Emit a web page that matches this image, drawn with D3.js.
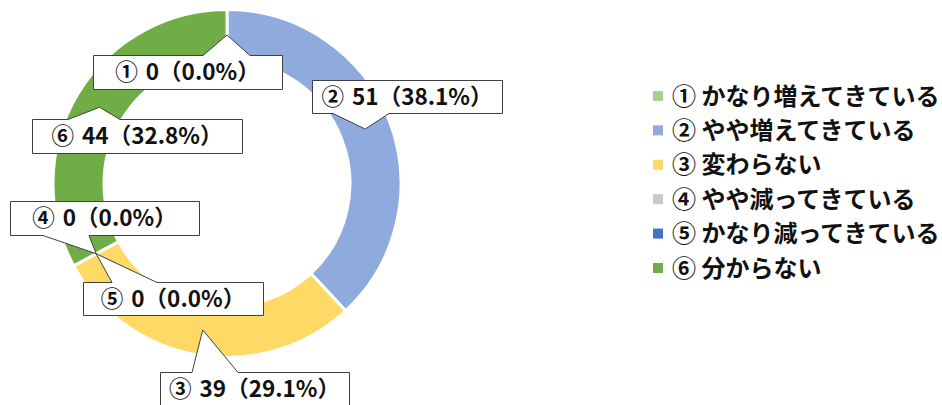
<!DOCTYPE html>
<html>
<head>
<meta charset="utf-8">
<script src="https://cdn.jsdelivr.net/npm/d3@7/dist/d3.min.js"></script>
<style>
  body { margin: 0; background: #fff; }
  text { font-family: "Noto Sans CJK JP", "Noto Sans", sans-serif; font-weight: bold; fill: #111; }
</style>
</head>
<body>
<div id="chart"></div>
<script>
// data
var marks = ["①", "②", "③", "④", "⑤", "⑥"];
var categories = ["かなり増えてきている", "やや増えてきている", "変わらない", "やや減ってきている", "かなり減ってきている", "分からない"];
var counts = [0, 51, 39, 0, 0, 44];
var colors = ["#A9D18E", "#8FAADC", "#FFD966", "#C9C9C9", "#4472C4", "#70AD47"];

// callout boxes: x, y, w, h, wedge base left, wedge base right
var boxes = [
    [93, 55, 189, 34, 203, 250],
    [312, 80, 190, 33, 333, 389],
    [160, 372, 189, 40, 192, 238],
    [10, 201, 189, 34, 43, 89],
    [83, 282, 180, 33, 112, 157],
    [32, 119, 210, 34, 68, 120]
];

var width = 942, height = 405;
var cx = 227, cy = 183.5;

var svg = d3.select("#chart").append("svg")
    .attr("width", width)
    .attr("height", height);

var total = d3.sum(counts);
var items = counts.map(function(d, i){
    return {i: i, value: d, mark: marks[i], name: categories[i], color: colors[i]};
});

var pie = d3.pie().sort(null).value(function(d){ return d.value; });
var arcs = pie(items);

var arc = d3.arc().innerRadius(123).outerRadius(174);
var midArc = d3.arc().innerRadius(148.5).outerRadius(148.5);

var ring = svg.append("g").attr("transform", "translate(" + cx + "," + cy + ")");
ring.selectAll("path")
    .data(arcs.filter(function(d){ return d.value > 0; }))
    .enter()
    .append("path")
    .attr("d", arc)
    .attr("fill", function(d){ return d.data.color; })
    .attr("stroke", "#fff")
    .attr("stroke-width", 3);

// callouts
function calloutPath(b, p){
    var x = b[0] + 0.5, y = b[1] + 0.5, w = b[2], h = b[3];
    var ax = p[0] + cx, ay = p[1] + cy;
    if (ay < y) {
        return "M" + x + "," + y + "L" + b[4] + "," + y + "L" + ax + "," + ay +
            "L" + b[5] + "," + y + "L" + (x + w) + "," + y + "L" + (x + w) + "," + (y + h) +
            "L" + x + "," + (y + h) + "Z";
    }
    return "M" + x + "," + y + "L" + (x + w) + "," + y + "L" + (x + w) + "," + (y + h) +
        "L" + b[5] + "," + (y + h) + "L" + ax + "," + ay + "L" + b[4] + "," + (y + h) +
        "L" + x + "," + (y + h) + "Z";
}

var callouts = svg.append("g").selectAll("g")
    .data(arcs)
    .enter()
    .append("g");

callouts.append("path")
    .attr("d", function(d){ return calloutPath(boxes[d.data.i], midArc.centroid(d)); })
    .attr("fill", "#fff")
    .attr("stroke", "#404040")
    .attr("stroke-width", 1);

var labels = callouts.append("text")
    .attr("x", function(d){ var b = boxes[d.data.i]; return b[0] + b[2] / 2; })
    .attr("y", function(d){ var b = boxes[d.data.i]; return b[1] + 17 + 8; })
    .attr("text-anchor", "middle")
    .attr("font-size", 22.5);
labels.append("tspan").text(function(d){ return d.data.mark; });
labels.append("tspan")
    .attr("dx", 8)
    .text(function(d){
        return d.data.value + "（" + (d.data.value / total * 100).toFixed(1) + "%）";
    });

// legend
var legendY = d3.scalePoint().domain(d3.range(items.length)).range([96, 268]);
var legend = svg.append("g").selectAll("g")
    .data(items)
    .enter()
    .append("g")
    .attr("transform", function(d){ return "translate(653," + legendY(d.i) + ")"; });

legend.append("rect")
    .attr("x", 0)
    .attr("y", -5)
    .attr("width", 10)
    .attr("height", 10)
    .attr("fill", function(d){ return d.color; });

legend.append("text")
    .attr("x", 19)
    .attr("y", 8.5)
    .attr("font-size", 24)
    .text(function(d){ return d.mark + " " + d.name; });
</script>
</body>
</html>
